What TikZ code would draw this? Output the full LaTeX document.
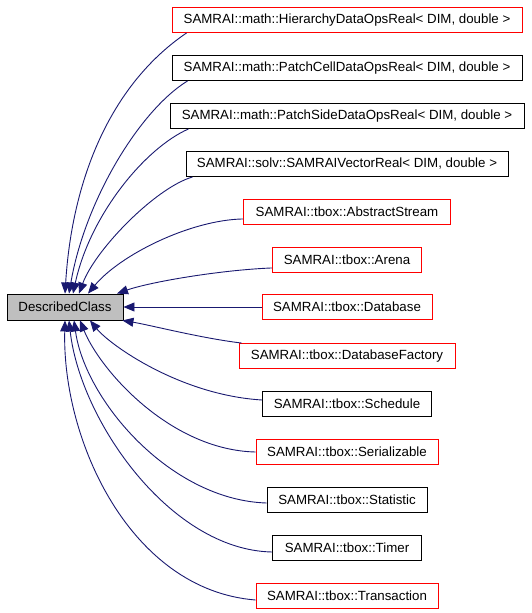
\documentclass[tikz,border=0pt]{standalone}
\usepackage{fontspec}
\setmainfont{Liberation Sans}
\usetikzlibrary{arrows.meta}

\definecolor{edgeblue}{RGB}{25,25,112}
\definecolor{rootgray}{RGB}{191,191,191}

\tikzset{
    cls/.style={draw=black, line width=0.9pt, fill=white, inner sep=0pt,
        minimum height=25pt, font=\fontsize{13.3}{16}\selectfont},
    clsred/.style={cls, draw=red},
    rootcls/.style={cls, fill=rootgray, minimum height=26pt},
    inherit/.style={edgeblue, line width=0.9pt, {Triangle[length=11pt,width=9pt]}-},
}

\begin{document}
\begin{tikzpicture}[x=1pt, y=-1pt]
        \useasboundingbox (0,0) rectangle (531,613);

        % Base class
        \node[rootcls, minimum width=116pt] (dc) at (65,307) {DescribedClass};

        % Derived classes
        \node[clsred, minimum width=350pt] (hier) at (347,20) {SAMRAI::math::HierarchyDataOpsReal< DIM, double >};
        \node[cls, minimum width=350pt] (pcell) at (347,68) {SAMRAI::math::PatchCellDataOpsReal< DIM, double >};
        \node[cls, minimum width=354pt] (pside) at (347,116) {SAMRAI::math::PatchSideDataOpsReal< DIM, double >};
        \node[cls, minimum width=322pt] (vreal) at (347,164) {SAMRAI::solv::SAMRAIVectorReal< DIM, double >};
        \node[clsred, minimum width=207pt] (astream) at (347,212) {SAMRAI::tbox::AbstractStream};
        \node[clsred, minimum width=149pt] (arena) at (347,260) {SAMRAI::tbox::Arena};
        \node[clsred, minimum width=170pt] (db) at (347,307) {SAMRAI::tbox::Database};
        \node[clsred, minimum width=216pt] (dbfact) at (347,356) {SAMRAI::tbox::DatabaseFactory};
        \node[cls, minimum width=169pt] (sched) at (347,404) {SAMRAI::tbox::Schedule};
        \node[clsred, minimum width=182pt] (serial) at (347,452) {SAMRAI::tbox::Serializable};
        \node[cls, minimum width=160pt] (stat) at (347,500) {SAMRAI::tbox::Statistic};
        \node[cls, minimum width=149pt] (timer) at (347,548) {SAMRAI::tbox::Timer};
        \node[clsred, minimum width=182pt] (trans) at (347,596) {SAMRAI::tbox::Transaction};

        % Edges into the top of the base class
        \draw[inherit] (dc.north) .. controls (72,180) and (110,85) .. ([xshift=15pt]hier.south west);
        \draw[inherit] ([xshift=4pt]dc.north) .. controls (85,200) and (140,110) .. ([xshift=16pt]pcell.south west);
        \draw[inherit] ([xshift=8pt]dc.north) .. controls (90,215) and (145,148) .. ([xshift=19pt]pside.south west);
        \draw[inherit] ([xshift=14pt]dc.north) .. controls (95,250) and (155,188) .. ([xshift=7pt]vreal.south west);
        \draw[inherit] ([xshift=23pt]dc.north) .. controls (120,255) and (190,220) .. ([yshift=6pt]astream.south west);
        \draw[inherit] ([xshift=52pt]dc.north) .. controls (150,282) and (220,270) .. ([yshift=5pt]arena.south west);

        % Edges into the side
        \draw[inherit] (dc.east) -- (db.west);
        \draw[inherit] ([xshift=-1pt]dc.south east) .. controls (150,325) and (200,338) .. ([xshift=3pt]dbfact.north west);

        % Edges into the bottom
        \draw[inherit] ([xshift=25pt]dc.south) .. controls (110,345) and (180,395) .. ([yshift=4pt]sched.west);
        \draw[inherit] ([xshift=15pt]dc.south) .. controls (100,370) and (170,450) .. (serial.west);
        \draw[inherit] ([xshift=9pt]dc.south) .. controls (85,400) and (170,500) .. ([yshift=-3pt]stat.west);
        \draw[inherit] ([xshift=4pt]dc.south) .. controls (80,420) and (170,550) .. ([yshift=-4pt]timer.west);
        \draw[inherit] (dc.south) .. controls (62,440) and (130,590) .. ([yshift=-4pt]trans.west);
\end{tikzpicture}
\end{document}
